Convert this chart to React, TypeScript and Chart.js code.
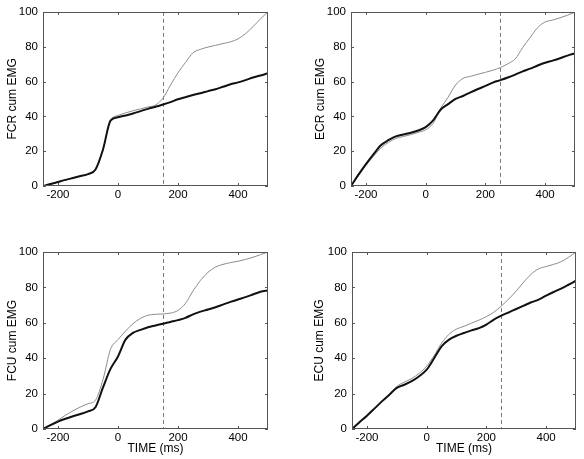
import React, { useEffect, useRef } from "react";
import { Chart, registerables } from "chart.js";

Chart.register(...registerables);

// ---- data ----
const times = [-250, -225, -200, -175, -150, -125, -100, -75, -50, -25, 0, 25, 50, 75, 100, 125, 150, 175, 200, 225, 250, 275, 300, 325, 350, 375, 400, 425, 450, 475, 500];
const xTickValues = [-200, 0, 200, 400];
const yTickValues = [0, 20, 40, 60, 80, 100];
const panelLabels = ["FCR cum EMG", "ECR cum EMG", "FCU cum EMG", "ECU cum EMG"];
const markerTimes = [150, 250, 150, 250];
const xTitle = "TIME (ms)";

const fcrBlack = [0, 1.1, 2.3, 3.5, 4.6, 5.7, 6.8, 9.5, 21, 37.5, 39.5, 40.5, 41.6, 43, 44.3, 45.5, 46.8, 48.2, 49.8, 51, 52.3, 53.3, 54.5, 55.6, 57, 58.4, 59.5, 60.8, 62.3, 63.5, 64.8];
const fcrGray = [0, 1.1, 2.3, 3.5, 4.6, 5.7, 6.8, 9.5, 21, 37.8, 40.5, 42, 43.2, 44.3, 45.4, 46.5, 50.5, 58, 65, 71, 76.5, 78.5, 79.8, 80.8, 81.8, 82.8, 84.5, 87.5, 91.5, 96, 100];

const ecrBlack = [0, 6.5, 12.6, 18.2, 23.4, 26.3, 28.5, 29.6, 30.6, 31.9, 33.8, 37.7, 43.8, 47, 50, 51.7, 53.8, 55.7, 57.5, 59.4, 60.8, 62.3, 64, 65.8, 67.4, 69.2, 70.8, 72, 73.4, 74.9, 76.2];
const ecrGray = [0, 6, 11.8, 17, 21.8, 25, 27.3, 28.4, 29.5, 30.8, 32.3, 36, 44.5, 51, 58, 61.8, 63, 64.2, 65.3, 66.5, 68, 70.2, 73, 79.6, 85.3, 91, 94.2, 95.3, 96.6, 98.1, 99.8];

const fcuBlack = [0, 2.2, 4.2, 5.8, 7.2, 8.5, 10, 12.3, 23.5, 34, 41, 50.5, 54.3, 56, 57.5, 58.5, 59.5, 60.5, 61.5, 62.8, 64.8, 66.3, 67.5, 68.8, 70.3, 71.8, 73.2, 74.5, 76, 77.5, 78.3];
const fcuGray = [0, 2.5, 5, 7.8, 10.3, 12.5, 14.3, 16.3, 28, 45, 50.5, 55.3, 59.5, 62.5, 64.3, 64.8, 65, 65.5, 67, 71, 78, 84, 88.5, 91.5, 93, 94, 94.8, 95.8, 97, 98.5, 100];

const ecuBlack = [0, 3.8, 7.5, 11.5, 15.6, 19.4, 23.2, 25, 27, 29.8, 33.5, 40, 46.7, 50.5, 52.7, 54.2, 55.7, 57, 59, 61.8, 64, 65.9, 67.8, 69.7, 71.6, 73.1, 75.3, 77.4, 79.3, 81.5, 83.8];
const ecuGray = [0, 3.8, 7.5, 11.5, 15.6, 19.4, 24, 26.5, 28.5, 31.5, 35.5, 41.5, 48.5, 53.5, 56.5, 58, 59.8, 61.5, 63.5, 66, 69.5, 73.5, 78, 83, 87.5, 90.5, 91.8, 93, 94.5, 97, 100];

const blackSeries = [fcrBlack, ecrBlack, fcuBlack, ecuBlack];
const graySeries = [fcrGray, ecrGray, fcuGray, ecuGray];

// ---- layout (page pixels) ----
type Box = { left: number; top: number; width: number; height: number; pl: number; pt: number; pr: number; pb: number; xTitle: boolean };
const boxes: Box[] = [
  { left: 0, top: 0, width: 292, height: 230, pl: 43, pt: 9, pr: 268, pb: 186, xTitle: false },
  { left: 308, top: 0, width: 276, height: 230, pl: 351, pt: 9, pr: 575, pb: 186, xTitle: false },
  { left: 0, top: 230, width: 292, height: 229, pl: 43, pt: 252, pr: 268, pb: 429, xTitle: true },
  { left: 307, top: 230, width: 277, height: 229, pl: 352, pt: 252, pr: 576, pb: 429, xTitle: true },
];

const FONT = '"Liberation Sans", Arial, Helvetica, sans-serif';

const markerPlugin = {
  id: "marker",
  beforeDatasetsDraw(chart: any, _args: any, opts: any) {
    const { ctx, chartArea, scales } = chart;
    const px = Math.round(scales.x.getPixelForValue(opts.value)) + 0.5;
    ctx.save();
    ctx.strokeStyle = "#7a7a7a";
    ctx.lineWidth = 1;
    ctx.setLineDash([4, 3]);
    ctx.beginPath();
    ctx.moveTo(px, chartArea.top);
    ctx.lineTo(px, chartArea.bottom);
    ctx.stroke();
    ctx.restore();
  },
};

const framePlugin = {
  id: "frame",
  afterDatasetsDraw(chart: any) {
    const { ctx, chartArea, scales } = chart;
    const { left, right, top, bottom } = chartArea;
    const tl = 3;
    ctx.save();
    ctx.strokeStyle = "#555";
    ctx.lineWidth = 1;
    ctx.setLineDash([]);
    ctx.strokeRect(Math.round(left) + 0.5, Math.round(top) + 0.5, Math.round(right - left) - 1, Math.round(bottom - top) - 1);
    ctx.beginPath();
    scales.x.ticks.forEach((t: any) => {
      const px = Math.round(scales.x.getPixelForValue(t.value)) + 0.5;
      ctx.moveTo(px, bottom);
      ctx.lineTo(px, bottom - tl);
      ctx.moveTo(px, top);
      ctx.lineTo(px, top + tl);
    });
    scales.y.ticks.forEach((t: any) => {
      const py = Math.round(scales.y.getPixelForValue(t.value)) + 0.5;
      ctx.moveTo(left, py);
      ctx.lineTo(left + tl, py);
      ctx.moveTo(right, py);
      ctx.lineTo(right - tl, py);
    });
    ctx.stroke();
    ctx.restore();
  },
};

function Panel({ index }: { index: number }) {
  const ref = useRef<HTMLCanvasElement | null>(null);
  const b = boxes[index];
  useEffect(() => {
    if (!ref.current) return;
    const black = blackSeries[index];
    const gray = graySeries[index];
    const chart = new Chart(ref.current, {
      type: "line",
      data: {
        datasets: [
          {
            data: times.map((t, i) => ({ x: t, y: black[i] })),
            borderColor: "#111",
            borderWidth: 2,
            pointRadius: 0,
            cubicInterpolationMode: "monotone",
          },
          {
            data: times.map((t, i) => ({ x: t, y: gray[i] })),
            borderColor: "#8c8c8c",
            borderWidth: 1,
            pointRadius: 0,
            cubicInterpolationMode: "monotone",
          },
        ],
      },
      options: {
        responsive: false,
        animation: false,
        events: [],
        layout: {
          padding: { left: 0, top: b.pt - b.top, right: b.left + b.width - b.pr, bottom: 0 },
        },
        plugins: {
          legend: { display: false },
          tooltip: { enabled: false },
          marker: { value: markerTimes[index] },
        } as any,
        scales: {
          x: {
            type: "linear",
            min: -250,
            max: 500,
            afterBuildTicks: (s: any) => {
              s.ticks = xTickValues.map((v) => ({ value: v }));
            },
            afterFit: (s: any) => {
              s.height = b.top + b.height - b.pb;
            },
            grid: { display: false, drawTicks: false },
            border: { display: false },
            ticks: {
              padding: 2,
              color: "#000",
              font: { family: FONT, size: 11.5 },
              maxRotation: 0,
              autoSkip: false,
            },
            title: {
              display: b.xTitle,
              text: xTitle,
              color: "#000",
              font: { family: FONT, size: 12 },
              padding: { top: 0, bottom: 3 },
            },
          },
          y: {
            type: "linear",
            min: 0,
            max: 100,
            afterBuildTicks: (s: any) => {
              s.ticks = yTickValues.map((v) => ({ value: v }));
            },
            afterFit: (s: any) => {
              s.width = b.pl - b.left;
            },
            grid: { display: false, drawTicks: false },
            border: { display: false },
            ticks: {
              padding: 5,
              color: "#000",
              font: { family: FONT, size: 11.5 },
              autoSkip: false,
            },
            title: {
              display: true,
              text: panelLabels[index],
              color: "#000",
              font: { family: FONT, size: 12 },
              padding: { top: 5, bottom: 0 },
            },
          },
        },
      },
      plugins: [markerPlugin, framePlugin],
    } as any);
    return () => chart.destroy();
  }, [index]);
  return (
    <canvas
      ref={ref}
      width={b.width}
      height={b.height}
      style={{ position: "absolute", left: b.left, top: b.top, width: b.width, height: b.height }}
    />
  );
}

export default function App() {
  return (
    <div style={{ position: "fixed", left: 0, top: 0, width: 584, height: 459, background: "#fff", overflow: "hidden" }}>
      {[0, 1, 2, 3].map((i) => (
        <Panel key={i} index={i} />
      ))}
    </div>
  );
}
